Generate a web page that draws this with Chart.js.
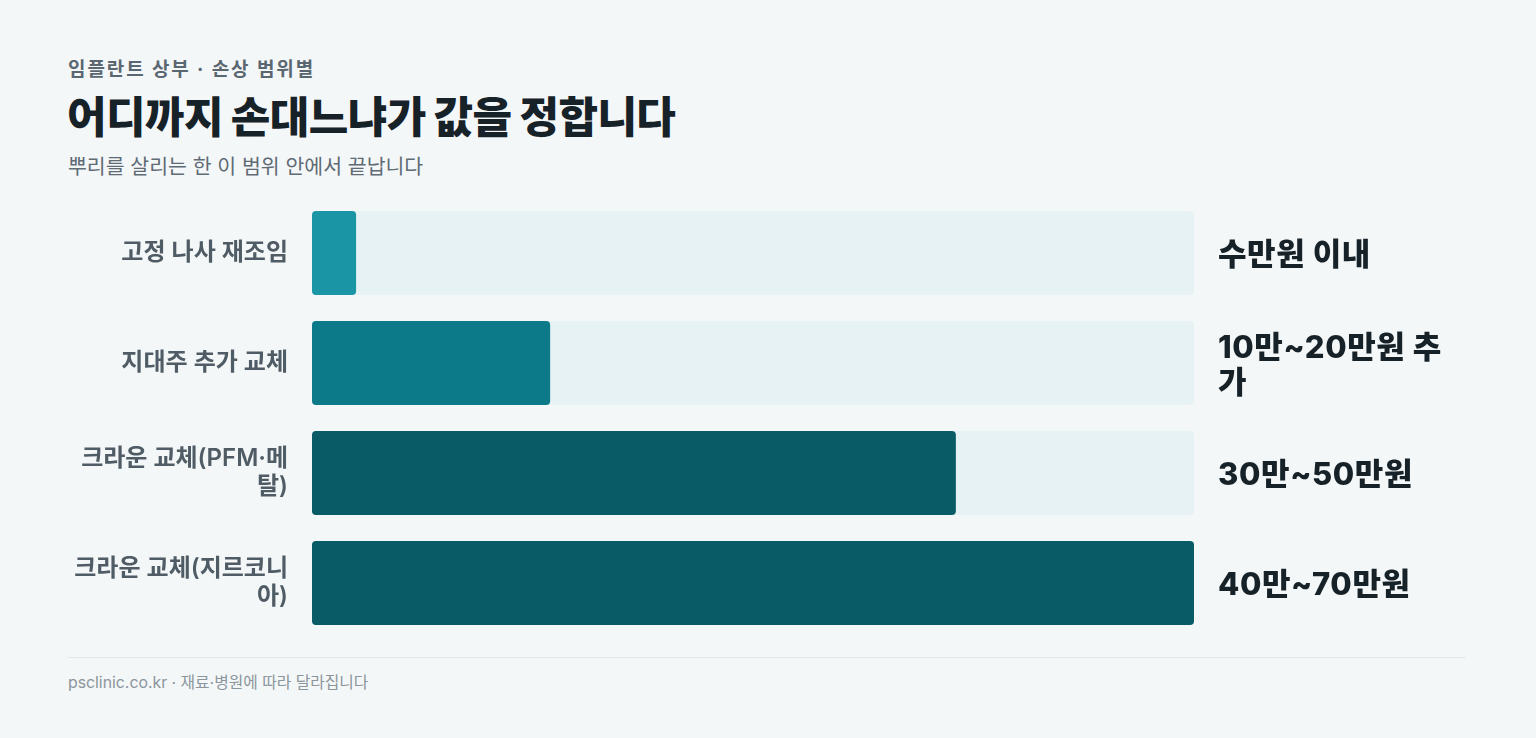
<!DOCTYPE html>
<html><head><meta charset="utf-8">
<script src="https://cdn.jsdelivr.net/npm/chart.js@4.4.1/dist/chart.umd.min.js"></script>
<style>
html,body{margin:0;padding:0;}
body{background:#f4f7f8;width:1536px;height:738px;overflow:hidden;position:relative;font-family:Inter,'Noto Sans CJK KR','Noto Sans',sans-serif;}
.kicker{position:absolute;left:68px;top:54px;font-size:19px;font-weight:700;color:#5b6770;letter-spacing:1.9px;}
.title{position:absolute;left:67px;top:92px;font-size:43px;font-weight:900;color:#172228;letter-spacing:-0.6px;line-height:1.2;}
.sub{position:absolute;left:68px;top:150px;font-size:20.5px;font-weight:400;color:#5f6b75;letter-spacing:0;}
#wrap{position:absolute;left:68px;top:198px;width:1398px;height:440px;}
.rule{position:absolute;left:68px;top:657px;width:1398px;height:1px;background:#e1e7ea;}
.foot{position:absolute;left:68px;top:670px;font-size:15.8px;color:#8b959c;}
</style>
</head><body>
<div class="kicker">임플란트 상부 · 손상 범위별</div>
<div class="title">어디까지 손대느냐가 값을 정합니다</div>
<div class="sub">뿌리를 살리는 한 이 범위 안에서 끝납니다</div>
<div id="wrap"><canvas id="c"></canvas></div>
<div class="rule"></div>
<div class="foot">psclinic.co.kr · 재료·병원에 따라 달라집니다</div>
<script>
const categories = ['고정 나사 재조임', '지대주 추가 교체', '크라운 교체(PFM·메탈)', '크라운 교체(지르코니아)'];
const costValues = [5, 27, 73, 100];
const costLabels = ['수만원 이내', '10만~20만원 추가', '30만~50만원', '40만~70만원'];
const barColors = ['#1a95a6', '#0c7a88', '#095c66', '#095c66'];
const trackColor = '#e7f2f4';

const trackMax = 100;
const trackValues = categories.map(() => trackMax);

const tickFontFamily = "Inter, 'Noto Sans CJK KR', sans-serif";
const tickFont = {family: tickFontFamily, size: 24, weight: '600', lineHeight: 1.17};
const valueFont = "800 31px Inter, 'Noto Sans CJK KR', sans-serif";

const measureCtx = document.createElement('canvas').getContext('2d');
function wrapText(ctx, text, maxW) {
  const lines = [];
  let line = '';
  for (const ch of text) {
    const test = line + ch;
    if (line && ctx.measureText(test).width > maxW) {
      lines.push(line.trimEnd());
      line = ch === ' ' ? '' : ch;
    } else line = test;
  }
  if (line) lines.push(line);
  return lines;
}

const valueLabelPlugin = {
  id: 'valueLabels',
  afterDatasetsDraw(chart) {
    const ctx = chart.ctx;
    const meta = chart.getDatasetMeta(0);
    const x = chart.chartArea.right + 24;
    const maxW = 242;
    ctx.save();
    ctx.font = valueFont;
    if ('letterSpacing' in ctx) ctx.letterSpacing = '0.6px';
    ctx.fillStyle = '#172228';
    ctx.textAlign = 'left';
    ctx.textBaseline = 'middle';
    meta.data.forEach((bar, i) => {
      const lines = wrapText(ctx, costLabels[i], maxW);
      const lh = 35;
      const y0 = bar.y + 3 - (lines.length - 1) * lh / 2;
      lines.forEach((ln, k) => ctx.fillText(ln, x, y0 + k * lh));
    });
    ctx.restore();
  }
};

new Chart(document.getElementById('c'), {
  type: 'bar',
  data: {
    labels: categories,
    datasets: [
      {data: costValues, backgroundColor: barColors, borderRadius: 4, borderSkipped: false,
       barPercentage: 1, categoryPercentage: 0.764, grouped: false, order: 0},
      {data: trackValues, backgroundColor: trackColor, borderRadius: 4, borderSkipped: false,
       barPercentage: 1, categoryPercentage: 0.764, grouped: false, order: 1}
    ]
  },
  options: {
    indexAxis: 'y',
    responsive: true,
    maintainAspectRatio: false,
    animation: false,
    layout: {padding: {left: 0, right: 272, top: 0, bottom: 0}},
    plugins: {legend: {display: false}, tooltip: {enabled: false}},
    scales: {
      x: {display: false, min: 0, max: trackMax},
      y: {
        grid: {display: false, drawTicks: false},
        border: {display: false},
        afterFit(scale) { scale.width = 244; scale.paddingTop = 0; scale.paddingBottom = 0; },
        ticks: {
          padding: 24,
          color: '#505c65',
          font: tickFont,
          callback(value, index) {
            measureCtx.font = `600 24px ${tickFontFamily}`;
            return wrapText(measureCtx, categories[index], 222);
          }
        }
      }
    }
  },
  plugins: [valueLabelPlugin]
});
</script>
</body></html>
